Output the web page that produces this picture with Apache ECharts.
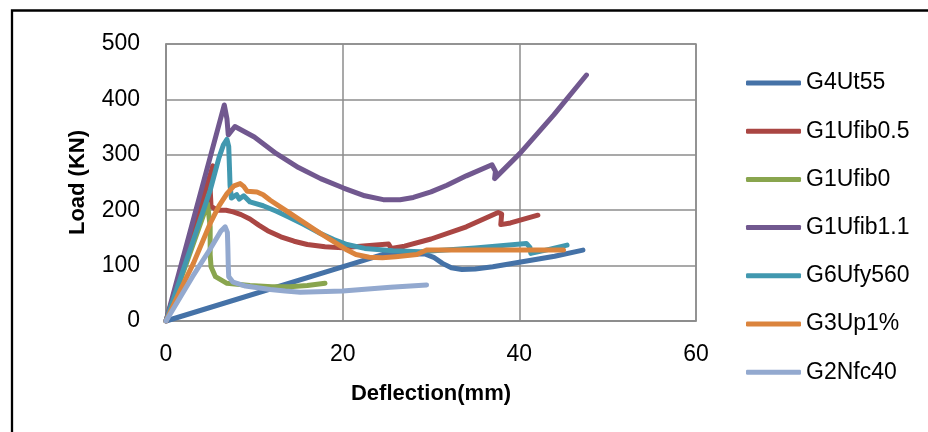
<!DOCTYPE html>
<html>
<head>
<meta charset="utf-8">
<script src="https://cdn.jsdelivr.net/npm/echarts@6/dist/echarts.min.js"></script>
<style>
html,body{margin:0;padding:0;background:#fff;}
#chart{width:928px;height:432px;}
</style>
</head>
<body>
<div id="chart"></div>
<script>
const seriesNames = ['G4Ut55','G1Ufib0.5','G1Ufib0','G1Ufib1.1','G6Ufy560','G3Up1%','G2Nfc40'];
const seriesColors = ['#4572A7','#AA4643','#89A54E','#71588F','#4198AF','#DB843D','#93A9CF'];
const xTicks = [0, 20, 40, 60];
const yTicks = [0, 100, 200, 300, 400, 500];

const g4Ut55 = [[0,0],[24.5,120],[27,121],[29.3,121],[30.3,115],[31.3,104],[32.3,96],[33.5,93],[35,94],[37,98],[40,106],[44,117],[47.2,128]];
const g1Ufib05 = [[0,0],[5.3,280],[5.0,238],[5.1,207],[5.8,200],[6.8,200],[7.6,197],[8.5,192],[9.5,184],[10.5,173],[11.5,163],[13,152],[14.5,144],[16,138],[18,134],[20,132],[22,135],[25.2,139],[25.5,131],[27,135],[30,148],[34,170],[37.6,196],[38.0,193],[37.9,174],[39,177],[42.1,191]];
const g1Ufib0 = [[0,0],[4.7,212],[5.0,170],[5.0,120],[5.1,98],[5.6,80],[6.9,68],[9.5,64],[12,62],[14,62],[16,64],[18,68]];
const g1Ufib11 = [[0,0],[6.6,390],[6.9,365],[7.05,336],[7.8,351],[10,332],[12.5,302],[15,277],[17.5,257],[20.1,240],[22.5,226],[24.6,219],[26.5,219],[28,223],[30,233],[31.8,245],[34,262],[36.9,282],[37.3,270],[37.2,257],[40.1,303],[43.9,372],[47.6,444]];
const g6Ufy560 = [[0,0],[5,236],[6,295],[6.5,318],[6.9,328],[7.1,315],[7.2,270],[7.25,245],[7.4,222],[8.0,228],[8.3,220],[8.8,226],[9.5,215],[11,208],[12.5,198],[14,187],[15.5,175],[17.5,158],[19,147],[20.5,138],[22.5,131],[25.7,127],[28.8,125],[35,132],[40.8,140],[41.2,133],[41.3,122],[43,128],[45.4,137]];
const g3Up1 = [[0,0],[1.6,55],[3.1,104],[5,176],[6,208],[6.9,230],[7.7,244],[8.4,248],[8.8,243],[9.2,234],[10.3,233],[11,228],[11.8,218],[13.5,200],[15.2,182],[17.3,160],[19.3,140],[20.5,128],[21.5,120],[23,115],[24.5,114],[26,116],[28.4,120],[29.5,128],[35,128],[40,128],[45,128]];
const g2Nfc40 = [[0,0],[3,80],[5,130],[6.2,162],[6.7,170],[6.95,160],[7.0,134],[7.05,100],[7.1,80],[7.6,70],[9,63],[11.8,57],[13.5,54],[15.2,52],[20,54],[25.4,61],[29.5,65]];

const seriesData = [g4Ut55, g1Ufib05, g1Ufib0, g1Ufib11, g6Ufy560, g3Up1, g2Nfc40];

const font = 'Liberation Sans';
const chart = echarts.init(document.getElementById('chart'), null, {renderer:'canvas'});
chart.setOption({
  animation: false,
  backgroundColor: '#fff',
  color: seriesColors,
  graphic: [{
    type: 'rect', silent: true,
    shape: {x: 12, y: 10.5, width: 1000, height: 1000},
    style: {fill: 'none', stroke: '#000', lineWidth: 2.3}
  }],
  grid: {left: 166, right: 232, top: 44, bottom: 111, show: true, borderColor: '#8c8c8c', borderWidth: 1.5},
  xAxis: {
    type: 'value', min: xTicks[0], max: xTicks[xTicks.length-1], interval: xTicks[1]-xTicks[0],
    name: 'Deflection(mm)', nameLocation: 'middle', nameGap: 62,
    nameTextStyle: {fontFamily: font, fontSize: 22, fontWeight: 'bold', color: '#000'},
    axisLine: {show: true, lineStyle: {color: '#8c8c8c', width: 1.5}},
    axisTick: {show: false},
    axisLabel: {fontFamily: font, fontSize: 23, color: '#000', margin: 22},
    splitLine: {show: true, lineStyle: {color: '#8c8c8c', width: 1.5}}
  },
  yAxis: {
    type: 'value', min: yTicks[0], max: yTicks[yTicks.length-1], interval: yTicks[1]-yTicks[0],
    name: 'Load (KN)', nameLocation: 'middle', nameGap: 77,
    nameTextStyle: {fontFamily: font, fontSize: 22, fontWeight: 'bold', color: '#000'},
    axisLine: {show: true, lineStyle: {color: '#8c8c8c', width: 1.5}},
    axisTick: {show: false},
    axisLabel: {fontFamily: font, fontSize: 23, color: '#000', margin: 26},
    splitLine: {show: true, lineStyle: {color: '#8c8c8c', width: 1.5}}
  },
  legend: {
    orient: 'vertical', left: 741, top: 66,
    itemWidth: 55, itemHeight: 5, itemGap: 24.2, icon: 'roundRect',
    textStyle: {fontFamily: font, fontSize: 23, color: '#000', lineHeight: 24},
    data: seriesNames
  },
  series: seriesNames.map((n, i) => ({
    name: n, type: 'line', data: seriesData[i],
    symbol: 'none', showSymbol: false, smooth: false,
    lineStyle: {width: 5, color: seriesColors[i], cap: 'round', join: 'round'},
    itemStyle: {color: seriesColors[i]}
  }))
});
</script>
</body>
</html>
